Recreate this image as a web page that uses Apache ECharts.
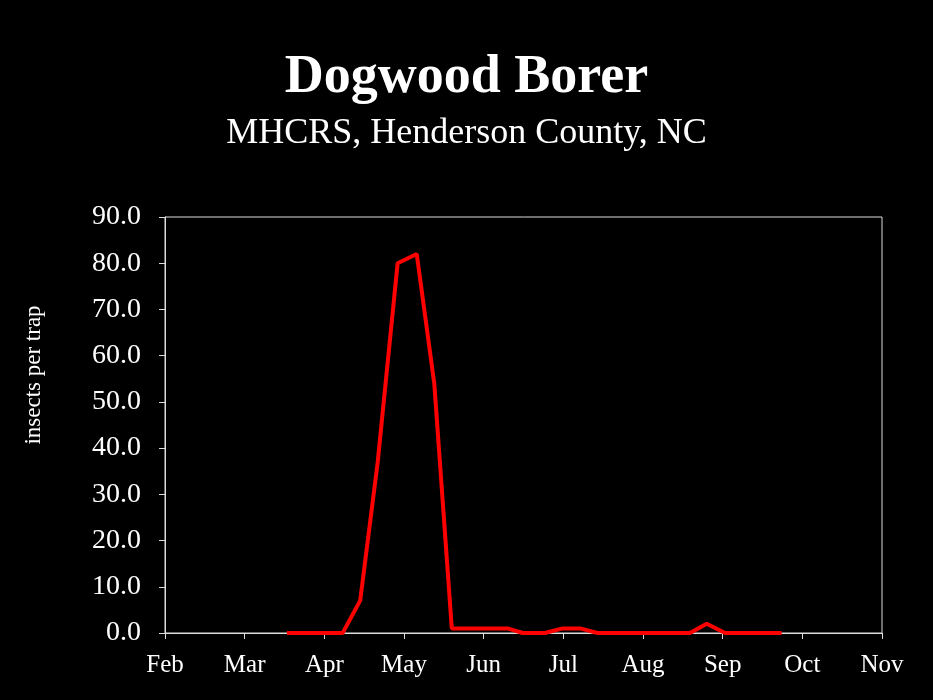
<!DOCTYPE html>
<html><head><meta charset="utf-8">
<script src="https://cdn.jsdelivr.net/npm/echarts@6/dist/echarts.min.js"></script>
<style>html,body{margin:0;background:#000}#c{width:933px;height:700px}</style>
</head><body><div id="c"></div>
<script>
// 月份刻度 (0 = Feb)
const months = ['Feb', 'Mar', 'Apr', 'May', 'Jun', 'Jul', 'Aug', 'Sep', 'Oct', 'Nov'];
// 采样日期（以月为单位）和每个诱捕器的虫数
const dates = [1.53, 1.77, 2.0, 2.23, 2.45, 2.67, 2.92, 3.16, 3.38, 3.6, 3.83, 4.08, 4.3, 4.49, 4.77, 4.99, 5.21, 5.43, 5.67, 5.91, 6.15, 6.37, 6.59, 6.8, 7.03, 7.28, 7.53, 7.74];
const counts = [0, 0, 0, 0, 7, 37, 80, 82, 54, 1, 1, 1, 1, 0, 0, 1, 1, 0, 0, 0, 0, 0, 0, 2, 0, 0, 0, 0];

const font = 'Liberation Serif';
const myChart = echarts.init(document.getElementById('c'));
myChart.setOption({
    backgroundColor: '#000',
    title: [
        { text: 'Dogwood Borer', left: 'center', top: 46, textStyle: { color: '#fff', fontFamily: font, fontSize: 54, fontWeight: 'bold' } },
        { text: 'MHCRS, Henderson County, NC', left: 'center', top: 111, textStyle: { color: '#fff', fontFamily: font, fontSize: 36, fontWeight: 'normal' } }
    ],
    // y轴标题单独画，位置比轴中心偏上
    graphic: [{
        type: 'text', x: 34, y: 375, rotation: Math.PI / 2,
        style: { text: 'insects per trap', fill: '#fff', font: '23px "Liberation Serif"', align: 'center', verticalAlign: 'middle' }
    }],
    grid: { left: 165, right: 51, top: 217, bottom: 67, show: true, borderColor: '#ddd', borderWidth: 1 },
    xAxis: {
        type: 'value', min: 0, max: 9, interval: 1,
        axisLine: { lineStyle: { color: '#ddd' } },
        axisTick: { lineStyle: { color: '#ddd' }, length: 6 },
        splitLine: { show: false },
        axisLabel: { color: '#fff', fontFamily: font, fontSize: 25, margin: 20, formatter: v => months[v] }
    },
    yAxis: {
        type: 'value', min: 0, max: 90, interval: 10,
        axisLine: { show: true, lineStyle: { color: '#ddd' } },
        axisTick: { show: true, lineStyle: { color: '#ddd' }, length: 6 },
        splitLine: { show: false },
        axisLabel: { color: '#fff', fontFamily: font, fontSize: 28, margin: 24, formatter: v => v.toFixed(1) }
    },
    series: [{
        type: 'line',
        data: dates.map((d, i) => [d, counts[i]]),
        showSymbol: false,
        lineStyle: { color: '#f00', width: 4 },
        itemStyle: { color: '#f00' }
    }]
});
</script></body></html>
